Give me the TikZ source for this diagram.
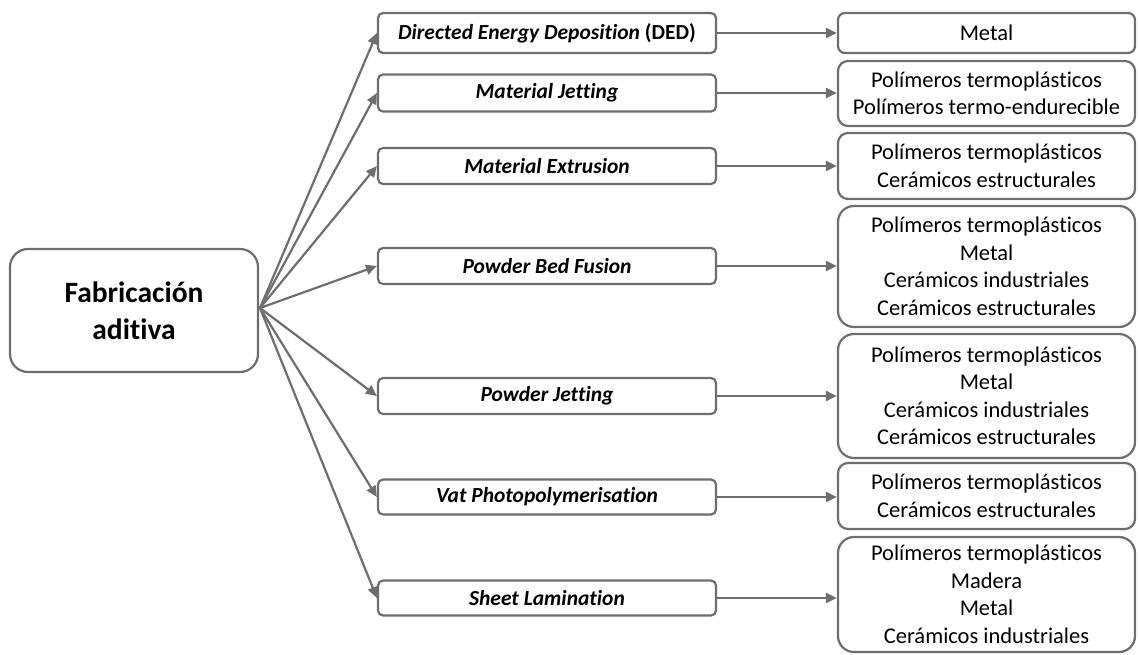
\documentclass[tikz,border=0pt]{standalone}
\usepackage{fontspec}
\setmainfont{Carlito}[Ligatures={NoCommon}]
\usetikzlibrary{arrows.meta}
\definecolor{linegray}{HTML}{6E6E6E}

\begin{document}
\begin{tikzpicture}[x=1pt,y=-1pt,
    base/.style={draw=linegray, line width=2.2pt, fill=white, inner sep=0pt, align=center},
    rootbox/.style={base, rounded corners=18pt, minimum width=248pt, minimum height=123pt, font=\fontsize{29.5}{37}\selectfont\bfseries},
    procbox/.style={base, rounded corners=5pt, minimum width=338pt, minimum height=36pt, font=\fontsize{21.5}{24}\selectfont\bfseries\itshape},
    matbox/.style={base, rounded corners=10pt, minimum width=297pt, font=\fontsize{22.5}{27.5}\selectfont},
    arr/.style={-{Triangle[length=11pt,width=10pt]}, linegray, line width=2.2pt}]
			\useasboundingbox (0,0) rectangle (1138,654);
			% raiz
			\node[rootbox] (fab) at (134,310.5) {Fabricación\\aditiva};
			\coordinate (hub) at (260,308);
			% procesos
			\node[procbox, minimum height=40pt] (ded) at (547,33) {Directed Energy Deposition \textup{(DED)}};
			\node[procbox, minimum height=37pt] (mj) at (547,93) {Material Jetting};
			\node[procbox] (me) at (547,166) {Material Extrusion};
			\node[procbox] (pbf) at (547,266) {Powder Bed Fusion};
			\node[procbox] (pj) at (547,396) {Powder Jetting};
			\node[procbox, minimum height=35pt] (vat) at (547,497) {Vat Photopolymerisation};
			\node[procbox, minimum height=35pt] (sl) at (547,598) {Sheet Lamination};
			% materiales
			\node[matbox, minimum height=40pt, rounded corners=7pt] (mded) at (986.5,33) {Metal};
			\node[matbox, minimum height=65pt] (mmj) at (986.5,93.5) {Polímeros termoplásticos\\Polímeros termo-endurecible};
			\node[matbox, minimum height=66pt] (mme) at (986.5,166) {Polímeros termoplásticos\\Cerámicos estructurales};
			\node[matbox, minimum height=121pt, rounded corners=16pt] (mpbf) at (986.5,266.5) {Polímeros termoplásticos\\Metal\\Cerámicos industriales\\Cerámicos estructurales};
			\node[matbox, minimum height=124pt, rounded corners=16pt] (mpj) at (986.5,396) {Polímeros termoplásticos\\Metal\\Cerámicos industriales\\Cerámicos estructurales};
			\node[matbox, minimum height=66pt] (mvat) at (986.5,496) {Polímeros termoplásticos\\Cerámicos estructurales};
			\node[matbox, minimum height=115pt, rounded corners=16pt] (msl) at (986.5,594.5) {Polímeros termoplásticos\\Madera\\Metal\\Cerámicos industriales};
			% flechas
			\draw[arr] (hub) -- (ded.west);
			\draw[arr] (hub) -- (mj.west);
			\draw[arr] (hub) -- (me.west);
			\draw[arr] (hub) -- (pbf.west);
			\draw[arr] (hub) -- (pj.west);
			\draw[arr] (hub) -- (vat.west);
			\draw[arr] (hub) -- (sl.west);
			\draw[arr] (ded.east) -- (ded.east -| mded.west);
			\draw[arr] (mj.east) -- (mj.east -| mmj.west);
			\draw[arr] (me.east) -- (me.east -| mme.west);
			\draw[arr] (pbf.east) -- (pbf.east -| mpbf.west);
			\draw[arr] (pj.east) -- (pj.east -| mpj.west);
			\draw[arr] (vat.east) -- (vat.east -| mvat.west);
			\draw[arr] (sl.east) -- (sl.east -| msl.west);
		\end{tikzpicture}
\end{document}
